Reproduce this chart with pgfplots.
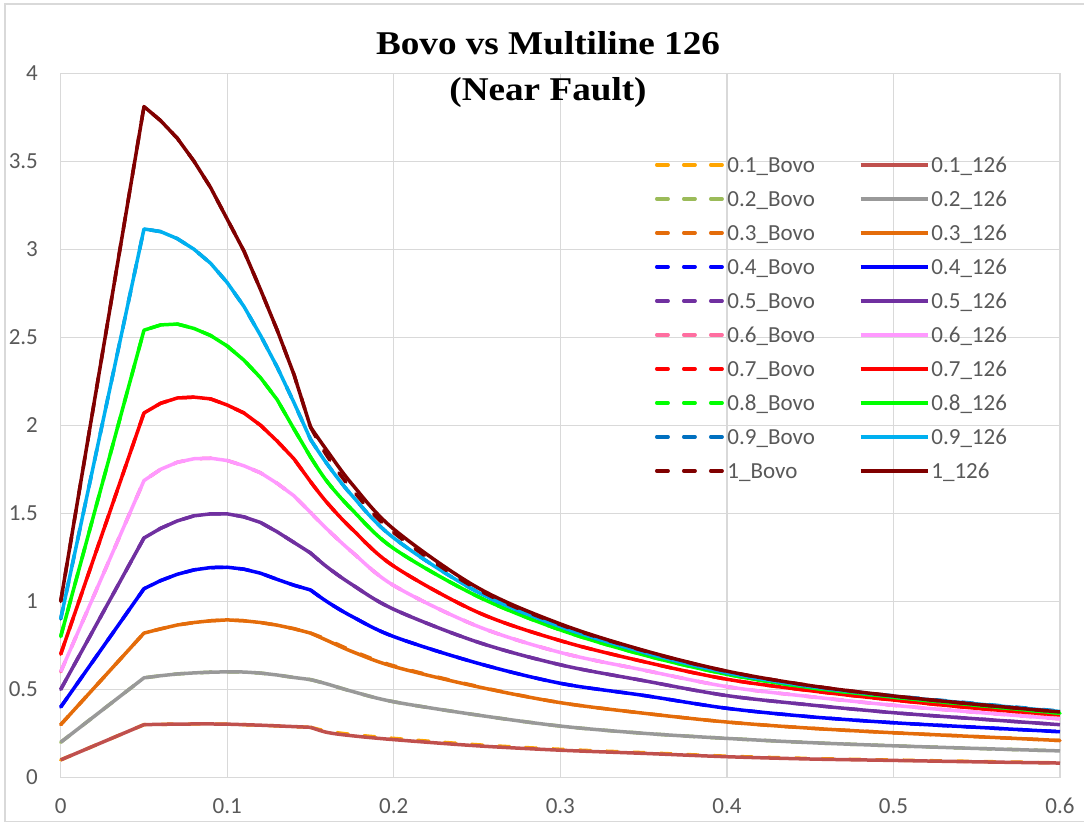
\documentclass[border=0pt]{standalone}
\usepackage{pgfplots}
\pgfplotsset{compat=1.18}
\usepackage{pgfplotstable}
\usepackage{fontspec}
\setmainfont{Carlito}
\newfontfamily\titlefont[FakeStretch=1.12]{Liberation Serif}

\definecolor{gridc}{HTML}{D9D9D9}
\definecolor{tickc}{HTML}{595959}
\definecolor{c1b}{RGB}{255,165,0}
\definecolor{c1m}{HTML}{C0504D}
\definecolor{c2b}{HTML}{9BBB59}
\definecolor{c2m}{HTML}{999999}
\definecolor{c3b}{HTML}{E46C0A}
\definecolor{c3m}{HTML}{E46C0A}
\definecolor{c4}{HTML}{0000FF}
\definecolor{c5}{HTML}{7030A0}
\definecolor{c6b}{RGB}{255,110,160}
\definecolor{c6m}{HTML}{FF99FF}
\definecolor{c7}{HTML}{FF0000}
\definecolor{c8}{HTML}{00FF00}
\definecolor{c9b}{HTML}{0070C0}
\definecolor{c9m}{HTML}{00B0F0}
\definecolor{c10}{HTML}{800000}

% Multiline 126
\pgfplotstableread{
x     m1     m2     m3     m4     m5     m6     m7     m8     m9     m10
0     0.100  0.200  0.300  0.400  0.500  0.600  0.700  0.800  0.900  1.000
0.05  0.300  0.566  0.820  1.072  1.360  1.686  2.070  2.540  3.115  3.810
0.06  0.302  0.578  0.844  1.118  1.415  1.750  2.125  2.570  3.100  3.730
0.07  0.303  0.588  0.866  1.154  1.457  1.790  2.155  2.575  3.060  3.630
0.08  0.304  0.594  0.880  1.179  1.486  1.810  2.160  2.550  3.000  3.500
0.09  0.304  0.598  0.890  1.192  1.497  1.813  2.150  2.510  2.920  3.350
0.10  0.303  0.600  0.895  1.194  1.497  1.800  2.115  2.450  2.810  3.170
0.11  0.300  0.599  0.890  1.183  1.480  1.770  2.070  2.370  2.675  2.990
0.12  0.297  0.593  0.880  1.160  1.448  1.730  2.000  2.270  2.510  2.770
0.13  0.293  0.582  0.865  1.125  1.395  1.670  1.910  2.145  2.330  2.540
0.14  0.289  0.568  0.845  1.092  1.335  1.600  1.810  1.980  2.130  2.290
0.15  0.285  0.556  0.820  1.065  1.275  1.505  1.680  1.820  1.920  1.990
0.16  0.256  0.531  0.778  0.998  1.195  1.410  1.560  1.680  1.780  1.855
0.175 0.237  0.489  0.715  0.914  1.095  1.280  1.410  1.520  1.600  1.665
0.2   0.215  0.430  0.630  0.800  0.955  1.090  1.200  1.300  1.360  1.410
0.25  0.180  0.355  0.516  0.650  0.770  0.860  0.940  1.030  1.055  1.080
0.3   0.155  0.292  0.425  0.535  0.640  0.710  0.777  0.838  0.857  0.872
0.35  0.137  0.251  0.365  0.466  0.550  0.610  0.658  0.696  0.711  0.722
0.4   0.118  0.222  0.315  0.393  0.465  0.516  0.558  0.586  0.595  0.604
0.45  0.105  0.198  0.280  0.345  0.412  0.459  0.493  0.510  0.517  0.522
0.5   0.097  0.180  0.254  0.311  0.368  0.410  0.440  0.456  0.462  0.463
0.55  0.089  0.165  0.232  0.285  0.333  0.370  0.393  0.410  0.418  0.415
0.6   0.082  0.151  0.210  0.260  0.300  0.333  0.355  0.365  0.375  0.372
}\tabM

% Bovo
\pgfplotstableread{
x     b1     b2     b3     b4     b5     b6     b7     b8     b9     b10
0     0.100  0.200  0.300  0.400  0.500  0.600  0.700  0.800  0.900  1.000
0.05  0.300  0.566  0.820  1.072  1.360  1.686  2.070  2.540  3.115  3.810
0.06  0.302  0.578  0.844  1.118  1.415  1.750  2.125  2.570  3.100  3.730
0.07  0.303  0.588  0.866  1.154  1.457  1.790  2.155  2.575  3.060  3.630
0.08  0.304  0.594  0.880  1.179  1.486  1.810  2.160  2.550  3.000  3.500
0.09  0.304  0.598  0.890  1.192  1.497  1.813  2.150  2.510  2.920  3.350
0.10  0.303  0.600  0.895  1.194  1.497  1.800  2.115  2.450  2.810  3.170
0.11  0.300  0.599  0.890  1.183  1.480  1.770  2.070  2.370  2.675  2.990
0.12  0.297  0.593  0.880  1.160  1.448  1.730  2.000  2.270  2.510  2.770
0.13  0.293  0.582  0.865  1.125  1.395  1.670  1.910  2.145  2.330  2.540
0.14  0.289  0.568  0.845  1.092  1.335  1.600  1.810  1.980  2.130  2.290
0.15  0.285  0.556  0.820  1.065  1.275  1.505  1.680  1.820  1.920  1.990
0.16  0.263  0.531  0.783  0.998  1.195  1.410  1.560  1.680  1.780  1.825
0.175 0.244  0.489  0.720  0.914  1.095  1.280  1.410  1.520  1.600  1.635
0.2   0.222  0.430  0.634  0.800  0.955  1.090  1.200  1.300  1.360  1.390
0.25  0.186  0.355  0.518  0.650  0.770  0.860  0.940  1.030  1.055  1.070
0.3   0.160  0.292  0.425  0.535  0.640  0.710  0.777  0.838  0.857  0.868
0.35  0.141  0.251  0.365  0.466  0.550  0.610  0.658  0.696  0.711  0.720
0.4   0.121  0.222  0.315  0.393  0.465  0.516  0.558  0.586  0.595  0.603
0.45  0.108  0.198  0.280  0.345  0.412  0.459  0.493  0.510  0.517  0.522
0.5   0.099  0.180  0.254  0.311  0.368  0.410  0.440  0.456  0.464  0.463
0.55  0.091  0.165  0.232  0.285  0.333  0.370  0.393  0.410  0.420  0.415
0.6   0.083  0.151  0.210  0.260  0.300  0.333  0.355  0.365  0.377  0.372
}\tabB

% one series: sharp part up to 0.15, smooth tail after it
\newcommand{\series}[4]{%
  \addplot[#1, forget plot] table[x=x,y=#3, restrict x to domain=0:0.1501]{#2};
  \addplot[#1, smooth, tension=0.55] table[x=x,y=#3, restrict x to domain=0.1499:0.6]{#2};
  \addlegendentry{#4}%
}

\begin{document}
\begin{tikzpicture}
\useasboundingbox (0,0) rectangle (542bp,411.5bp);
\draw[gridc, line width=0.6bp] (2.5bp,0.7bp) rectangle (546bp,409.5bp);
\begin{axis}[
  at={(30.35bp,22.75bp)}, anchor=south west,
  scale only axis, width=499.65bp, height=352.2bp,
  xmin=0, xmax=0.6, ymin=0, ymax=4,
  xtick={0,0.1,0.2,0.3,0.4,0.5,0.6},
  xticklabels={0,0.1,0.2,0.3,0.4,0.5,0.6},
  ytick={0,0.5,1,1.5,2,2.5,3,3.5,4},
  yticklabels={0,0.5,1,1.5,2,2.5,3,3.5,4},
  grid=major, major grid style={gridc, line width=0.6bp},
  axis line style={gridc, line width=0.6bp},
  major tick length=0pt,
  tick label style={font=\fontsize{11.5bp}{13bp}\selectfont, text=tickc},
  xticklabel style={inner sep=0pt, yshift=-10.2bp},
  yticklabel style={inner sep=0pt, xshift=-11.2bp},
  clip=false,
  legend columns=2,
  legend cell align=left,
  legend style={at={(0.5947,0.8832)}, anchor=north west, draw=none, fill=none,
     inner sep=0pt, outer sep=0pt,
     font=\fontsize{11.5bp}{13bp}\selectfont, text=tickc,
     nodes={inner sep=0pt, text height=8.4bp, text depth=1.1bp},
     row sep=7.5bp,
     /tikz/every odd column/.append style={column sep=1bp},
     /tikz/every even column/.append style={column sep=22bp}},
  legend image code/.code={\draw[#1] (0bp,0bp) -- (33.5bp,0bp);},
  every axis plot/.append style={line width=1.75bp, line join=round},
  bovo/.style={dash pattern=on 5.7bp off 7.8bp, line cap=round},
]
\series{c1b, bovo}{\tabB}{b1}{0.1\_Bovo}
\series{c1m}{\tabM}{m1}{0.1\_126}
\series{c2b, bovo}{\tabB}{b2}{0.2\_Bovo}
\series{c2m}{\tabM}{m2}{0.2\_126}
\series{c3b, bovo}{\tabB}{b3}{0.3\_Bovo}
\series{c3m}{\tabM}{m3}{0.3\_126}
\series{c4, bovo}{\tabB}{b4}{0.4\_Bovo}
\series{c4}{\tabM}{m4}{0.4\_126}
\series{c5, bovo}{\tabB}{b5}{0.5\_Bovo}
\series{c5}{\tabM}{m5}{0.5\_126}
\series{c6b, bovo}{\tabB}{b6}{0.6\_Bovo}
\series{c6m}{\tabM}{m6}{0.6\_126}
\series{c7, bovo}{\tabB}{b7}{0.7\_Bovo}
\series{c7}{\tabM}{m7}{0.7\_126}
\series{c8, bovo}{\tabB}{b8}{0.8\_Bovo}
\series{c8}{\tabM}{m8}{0.8\_126}
\series{c9b, bovo}{\tabB}{b9}{0.9\_Bovo}
\series{c9m}{\tabM}{m9}{0.9\_126}
\series{c10, bovo}{\tabB}{b10}{1\_Bovo}
\series{c10}{\tabM}{m10}{1\_126}
\end{axis}
\node[anchor=base, font=\titlefont\bfseries\fontsize{16.6bp}{20bp}\selectfont] at (274bp,384bp) {Bovo vs Multiline 126};
\node[anchor=base, font=\titlefont\bfseries\fontsize{16.6bp}{20bp}\selectfont] at (274bp,361bp) {(Near Fault)};
\end{tikzpicture}
\end{document}
